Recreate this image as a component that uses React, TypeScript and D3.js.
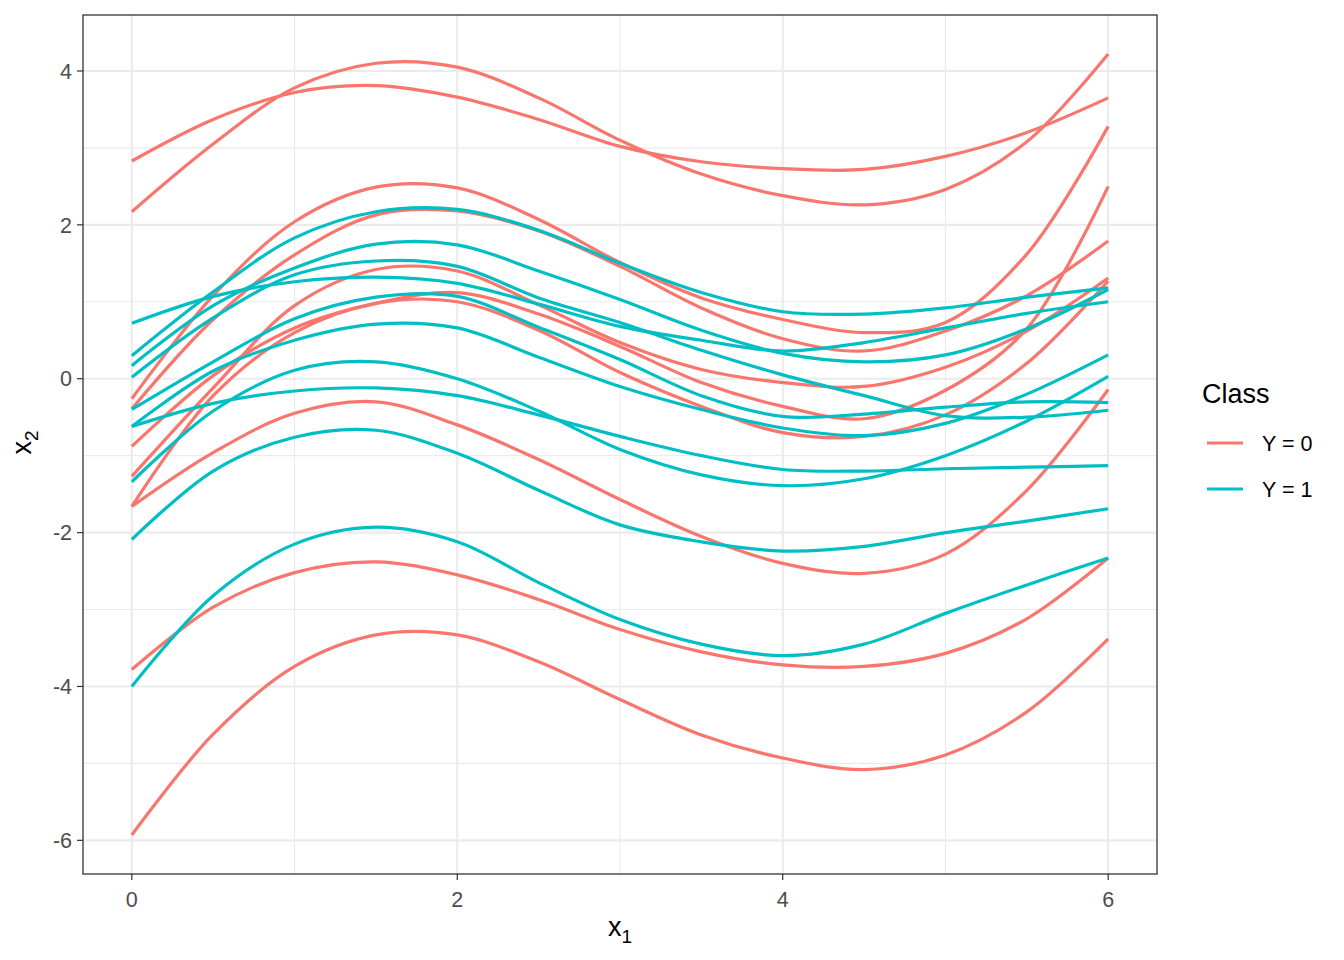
import React from 'react';
import * as d3 from 'd3';

// sample positions on x1
const xSteps = [0, 0.5, 1, 1.5, 2, 2.5, 3, 3.5, 4, 4.5, 5, 5.5, 6];

// Class Y = 0 curves (x2 values at xSteps)
const red01 = [2.83, 3.37, 3.72, 3.81, 3.66, 3.37, 3.02, 2.82, 2.73, 2.72, 2.89, 3.2, 3.65];
const red02 = [2.17, 3.05, 3.78, 4.1, 4.05, 3.65, 3.1, 2.66, 2.38, 2.26, 2.46, 3.08, 4.22];
const red03 = [-0.26, 1.08, 2.04, 2.49, 2.48, 2.07, 1.51, 1.05, 0.77, 0.6, 0.73, 1.62, 3.28];
const red04 = [-0.39, 0.77, 1.61, 2.13, 2.18, 1.92, 1.46, 0.92, 0.52, 0.36, 0.62, 1.08, 1.79];
const red05 = [-1.27, -0.12, 0.95, 1.42, 1.4, 0.96, 0.47, 0.12, -0.05, -0.1, 0.15, 0.62, 1.31];
const red06 = [-0.88, 0.04, 0.66, 0.98, 1.12, 0.84, 0.42, -0.05, -0.36, -0.52, -0.15, 0.65, 2.5];
const red07 = [-1.66, -0.22, 0.6, 0.98, 1.0, 0.63, 0.08, -0.36, -0.7, -0.75, -0.47, 0.2, 1.27];
const red08 = [-1.66, -0.96, -0.45, -0.3, -0.6, -1.05, -1.57, -2.05, -2.4, -2.53, -2.28, -1.45, -0.14];
const red09 = [-3.78, -2.97, -2.52, -2.38, -2.55, -2.87, -3.26, -3.55, -3.72, -3.74, -3.57, -3.12, -2.33];
const red10 = [-5.93, -4.62, -3.74, -3.33, -3.33, -3.68, -4.17, -4.63, -4.93, -5.08, -4.89, -4.33, -3.38];

// Class Y = 1 curves
const teal01 = [0.3, 1.13, 1.83, 2.17, 2.2, 1.93, 1.5, 1.12, 0.87, 0.84, 0.92, 1.06, 1.18];
const teal02 = [0.17, 0.95, 1.44, 1.75, 1.74, 1.4, 1.03, 0.63, 0.33, 0.22, 0.31, 0.65, 1.16];
const teal03 = [0.02, 0.79, 1.35, 1.53, 1.46, 1.05, 0.73, 0.37, 0.05, -0.22, -0.48, -0.5, -0.41];
const teal04 = [0.72, 1.07, 1.26, 1.32, 1.24, 0.97, 0.68, 0.5, 0.36, 0.47, 0.66, 0.85, 1.0];
const teal05 = [-0.4, 0.22, 0.78, 1.06, 1.07, 0.67, 0.25, -0.22, -0.49, -0.46, -0.37, -0.3, -0.31];
const teal06 = [-0.62, 0.1, 0.5, 0.71, 0.66, 0.28, -0.1, -0.4, -0.64, -0.74, -0.58, -0.2, 0.31];
const teal07 = [-1.34, -0.42, 0.11, 0.22, 0.0, -0.42, -0.92, -1.25, -1.39, -1.3, -1.0, -0.55, 0.03];
const teal08 = [-0.62, -0.32, -0.16, -0.12, -0.22, -0.47, -0.75, -1.0, -1.18, -1.2, -1.17, -1.15, -1.13];
const teal09 = [-2.09, -1.2, -0.76, -0.67, -0.97, -1.45, -1.9, -2.12, -2.24, -2.18, -2.0, -1.85, -1.69];
const teal10 = [-4.0, -2.82, -2.15, -1.93, -2.12, -2.65, -3.13, -3.45, -3.6, -3.45, -3.05, -2.68, -2.33];

const class0Curves = [red01, red02, red03, red04, red05, red06, red07, red08, red09, red10];
const class1Curves = [teal01, teal02, teal03, teal04, teal05, teal06, teal07, teal08, teal09, teal10];

const classLabels = ['Y = 0', 'Y = 1'];
const classColors = ['#F8766D', '#00BFC4'];

const xBreaks = [0, 2, 4, 6];
const xMinor = [1, 3, 5];
const yBreaks = [-6, -4, -2, 0, 2, 4];
const yMinor = [-5, -3, -1, 1, 3];

const W = 1344;
const H = 960;
const panel = { left: 83, right: 1157, top: 15, bottom: 874 };

export default function App() {
  const allY = [...class0Curves, ...class1Curves].flat();
  const [yMin, yMax] = d3.extent(allY) as [number, number];
  const yPad = (yMax - yMin) * 0.05;
  const xPad = (6 - 0) * 0.05;

  const x = d3.scaleLinear().domain([0 - xPad, 6 + xPad]).range([panel.left, panel.right]);
  const y = d3.scaleLinear().domain([yMin - yPad, yMax + yPad]).range([panel.bottom, panel.top]);

  const line = d3
    .line<number>()
    .x((_, i) => x(xSteps[i]))
    .y((d) => y(d))
    .curve(d3.curveCatmullRom.alpha(0.5));

  const groups = [class0Curves, class1Curves];
  const font = '"Liberation Sans", Arial, sans-serif';
  const tickSize = 21.5;
  const titleSize = 27;

  return (
    <svg
      width={W}
      height={H}
      style={{ position: 'absolute', left: 0, top: 0, background: '#fff' }}
      fontFamily={font}
    >
      <rect x={0} y={0} width={W} height={H} fill="#fff" />

      {/* grid */}
      {xMinor.map((v) => (
        <line key={'xm' + v} x1={x(v)} x2={x(v)} y1={panel.top} y2={panel.bottom} stroke="#EBEBEB" strokeWidth={1.1} />
      ))}
      {yMinor.map((v) => (
        <line key={'ym' + v} x1={panel.left} x2={panel.right} y1={y(v)} y2={y(v)} stroke="#EBEBEB" strokeWidth={1.1} />
      ))}
      {xBreaks.map((v) => (
        <line key={'xM' + v} x1={x(v)} x2={x(v)} y1={panel.top} y2={panel.bottom} stroke="#EBEBEB" strokeWidth={2.1} />
      ))}
      {yBreaks.map((v) => (
        <line key={'yM' + v} x1={panel.left} x2={panel.right} y1={y(v)} y2={y(v)} stroke="#EBEBEB" strokeWidth={2.1} />
      ))}

      {/* curves */}
      <defs>
        <clipPath id="panelClip">
          <rect x={panel.left} y={panel.top} width={panel.right - panel.left} height={panel.bottom - panel.top} />
        </clipPath>
      </defs>
      <g clipPath="url(#panelClip)">
        {groups.map((curves, gi) =>
          curves.map((vals, ci) => (
            <path
              key={gi + '-' + ci}
              d={line(vals) || ''}
              fill="none"
              stroke={classColors[gi]}
              strokeWidth={3.2}
              strokeLinejoin="round"
            />
          ))
        )}
      </g>

      {/* panel border */}
      <rect
        x={panel.left}
        y={panel.top}
        width={panel.right - panel.left}
        height={panel.bottom - panel.top}
        fill="none"
        stroke="#333333"
        strokeWidth={1.3}
      />

      {/* x axis */}
      {xBreaks.map((v) => (
        <g key={'xt' + v}>
          <line x1={x(v)} x2={x(v)} y1={panel.bottom} y2={panel.bottom + 6} stroke="#333333" strokeWidth={1.2} />
          <text x={x(v)} y={panel.bottom + 33} textAnchor="middle" fontSize={tickSize} fill="#4D4D4D">
            {v}
          </text>
        </g>
      ))}
      {/* y axis */}
      {yBreaks.map((v) => (
        <g key={'yt' + v}>
          <line x1={panel.left - 6} x2={panel.left} y1={y(v)} y2={y(v)} stroke="#333333" strokeWidth={1.2} />
          <text x={panel.left - 11} y={y(v) + 7.7} textAnchor="end" fontSize={tickSize} fill="#4D4D4D">
            {v}
          </text>
        </g>
      ))}

      {/* axis titles */}
      <text x={(panel.left + panel.right) / 2} y={936} textAnchor="middle" fontSize={titleSize} fill="#000">
        x
        <tspan fontSize={19} dy={7}>1</tspan>
      </text>
      <text
        transform={`translate(31,${(panel.top + panel.bottom) / 2 - 2}) rotate(-90)`}
        textAnchor="middle"
        fontSize={titleSize}
        fill="#000"
      >
        x
        <tspan fontSize={19} dy={7}>2</tspan>
      </text>

      {/* legend */}
      <text x={1202} y={403} fontSize={titleSize} fill="#000">
        Class
      </text>
      {classLabels.map((lab, i) => (
        <g key={lab}>
          <line
            x1={1207}
            x2={1243}
            y1={443 + i * 46}
            y2={443 + i * 46}
            stroke={classColors[i]}
            strokeWidth={3.2}
          />
          <text x={1262} y={443 + i * 46 + 7.7} fontSize={tickSize} fill="#000">
            {lab}
          </text>
        </g>
      ))}
    </svg>
  );
}
